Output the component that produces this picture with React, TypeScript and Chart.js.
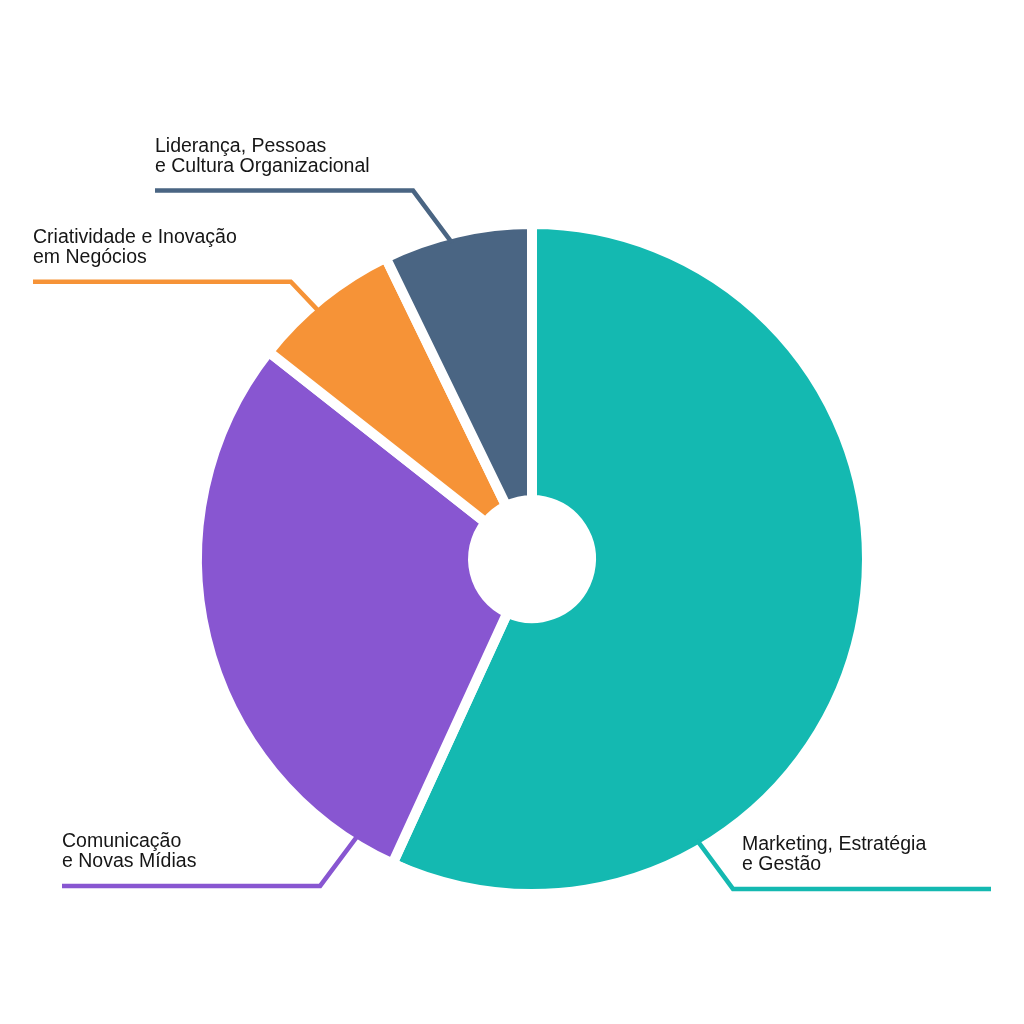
import React, { useEffect, useRef } from "react";
import { Chart, registerables } from "chart.js";

Chart.register(...registerables);

// ---- data ----
const categories = [
  "Marketing, Estratégia e Gestão",
  "Comunicação e Novas Mídias",
  "Criatividade e Inovação em Negócios",
  "Liderança, Pessoas e Cultura Organizacional",
];
const labelLines = [
  ["Marketing, Estratégia", "e Gestão"],
  ["Comunicação", "e Novas Mídias"],
  ["Criatividade e Inovação", "em Negócios"],
  ["Liderança, Pessoas", "e Cultura Organizacional"],
];
const values = [79, 40, 10, 10];
const colors = ["#14B9B1", "#8856D1", "#F69337", "#4A6583"];

// ---- leader-line layout (annotation geometry, not data) ----
const leaders = [
  { angle: 149.6, dx: 34, dy: 45.3, endX: 991, side: "right" },
  { angle: 212.2, dx: -36, dy: 47.7, endX: 62, side: "left" },
  { angle: 319.3, dx: -26, dy: -27, endX: 33, side: "left" },
  { angle: 345.8, dx: -38, dy: -48.5, endX: 155, side: "left" },
];

const BORDER = 10;
const FONT = '19.5px "Liberation Sans", Arial, sans-serif';

const leaderPlugin = {
  id: "leaderLabels",
  afterDraw(chart: any) {
    const meta = chart.getDatasetMeta(0);
    if (!meta || !meta.data.length) return;
    const arc0 = meta.data[0];
    const cx = arc0.x;
    const cy = arc0.y;
    const rVis = arc0.outerRadius - BORDER / 2;
    const ctx = chart.ctx;
    ctx.save();
    leaders.forEach((ld, i) => {
      const a = (ld.angle * Math.PI) / 180;
      const sx = cx + Math.sin(a) * (rVis - 4);
      const sy = cy - Math.cos(a) * (rVis - 4);
      const ax = cx + Math.sin(a) * rVis;
      const ay = cy - Math.cos(a) * rVis;
      const ex = ax + ld.dx;
      const ey = ay + ld.dy;
      ctx.beginPath();
      ctx.moveTo(sx, sy);
      ctx.lineTo(ex, ey);
      ctx.lineTo(ld.endX, ey);
      ctx.strokeStyle = colors[i];
      ctx.lineWidth = 4.5;
      ctx.lineJoin = "miter";
      ctx.lineCap = "butt";
      ctx.stroke();

      const lines = labelLines[i];
      ctx.fillStyle = "#161616";
      ctx.font = FONT;
      ctx.textAlign = "left";
      ctx.textBaseline = "alphabetic";
      const tx = ld.side === "right" ? ex + 9 : ld.endX;
      lines.forEach((t, j) => {
        const by = ey - 18.5 - 20 * (lines.length - 1 - j);
        ctx.fillText(t, tx, by);
      });
    });
    ctx.restore();
  },
};

export default function App() {
  const ref = useRef<HTMLCanvasElement | null>(null);
  useEffect(() => {
    if (!ref.current) return;
    const chart = new Chart(ref.current, {
      type: "doughnut",
      data: {
        labels: categories,
        datasets: [
          {
            data: values,
            backgroundColor: colors,
            borderColor: "#ffffff",
            borderWidth: BORDER,
            hoverBorderWidth: BORDER,
            borderJoinStyle: "miter",
          },
        ],
      },
      options: {
        responsive: false,
        maintainAspectRatio: false,
        animation: false,
        devicePixelRatio: 1,
        radius: 335,
        cutout: "17.6%",
        layout: { padding: { left: 100, right: 60, top: 120, bottom: 26 } },
        plugins: {
          legend: { display: false },
          tooltip: { enabled: false },
        },
      } as any,
      plugins: [leaderPlugin],
    });
    return () => chart.destroy();
  }, []);
  return (
    <div style={{ position: "absolute", left: 0, top: 0, width: 1024, height: 1024, background: "#fff" }}>
      <canvas ref={ref} width={1024} height={1024} style={{ display: "block", width: 1024, height: 1024 }} />
    </div>
  );
}
